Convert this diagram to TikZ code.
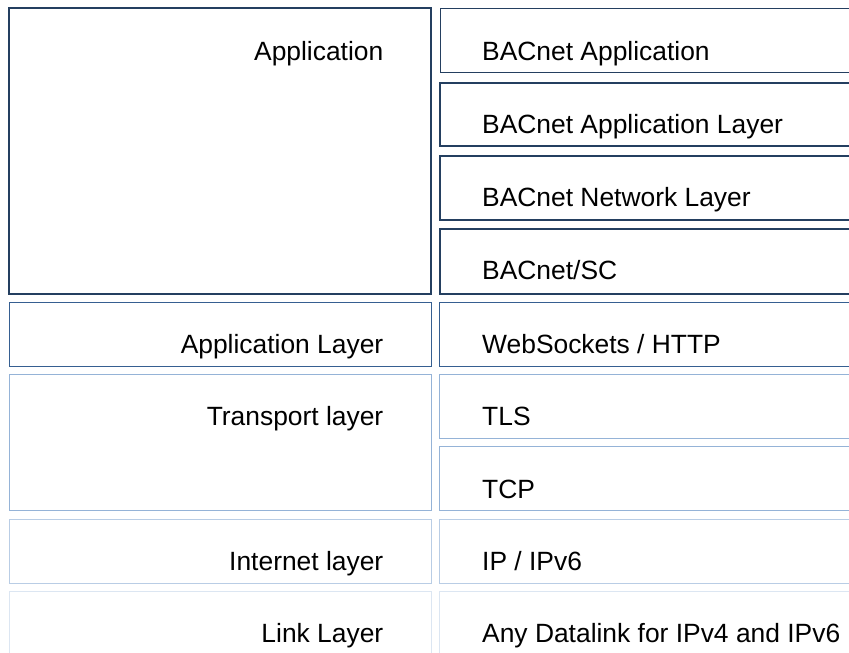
\documentclass[tikz,border=0pt]{standalone}
\usepackage{fontspec}
\setmainfont{Liberation Sans}
\usetikzlibrary{positioning}
\definecolor{navyblue}{RGB}{36,63,96}
\definecolor{midblue}{RGB}{54,95,145}
\definecolor{lightblue}{RGB}{149,179,215}
\definecolor{paleblue}{RGB}{185,205,229}
\definecolor{faintblue}{RGB}{220,230,242}
\tikzset{
  layerbox/.style={line width=1pt},
  bacbox/.style={line width=2pt, draw=navyblue},
  lefttxt/.style={anchor=base east, inner sep=0pt, font=\fontsize{26.4}{30}\selectfont},
  righttxt/.style={anchor=base west, inner sep=0pt, font=\fontsize{26.4}{30}\selectfont}
}

\begin{document}
\begin{tikzpicture}[x=1pt,y=-1pt]
    \clip (0,0) rectangle (849,653);

    % =====================
    % BACnet stack (top)
    % =====================
    \draw[bacbox] (9,8) rectangle (431,294);
    \node[lefttxt] (app) at (383.5,60.5) {Application};

    \draw[layerbox, draw=navyblue] (440,8.5) rectangle (870,72);
    \node[righttxt] (bacapp) at (482,60.5) {BACnet Application};

    \draw[bacbox] (440,82.5) rectangle (870,145.5);
    \node[righttxt] (bacal) at (482,133) {BACnet Application Layer};

    \draw[bacbox] (440,155.5) rectangle (870,219.5);
    \node[righttxt] (bacnl) at (482,206) {BACnet Network Layer};

    \draw[bacbox] (440,229) rectangle (870,294);
    \node[righttxt] (bacsc) at (482,279) {BACnet/SC};

    % =====================
    % Application layer
    % =====================
    \draw[layerbox, draw=midblue] (9.5,302.5) rectangle (431.5,366.5);
    \draw[layerbox, draw=midblue] (439.5,302.5) rectangle (870,366.5);
    \node[lefttxt] (applayer) at (383.5,353) {Application Layer};
    \node[righttxt] (websock) at (482,353) {WebSockets / HTTP};

    % =====================
    % Transport layer
    % =====================
    \draw[layerbox, draw=lightblue] (9.5,374.5) rectangle (431.5,510.5);
    \draw[layerbox, draw=lightblue] (439.5,374.5) rectangle (870,438.5);
    \draw[layerbox, draw=lightblue] (439.5,446.5) rectangle (870,510.5);
    \node[lefttxt] (transport) at (383.5,425.5) {Transport layer};
    \node[righttxt] (tls) at (482,425.5) {TLS};
    \node[righttxt] (tcp) at (482,498) {TCP};

    % =====================
    % Internet layer
    % =====================
    \draw[layerbox, draw=paleblue] (9.5,519.5) rectangle (431.5,583.5);
    \draw[layerbox, draw=paleblue] (439.5,519.5) rectangle (870,583.5);
    \node[lefttxt] (internet) at (383.5,570.5) {Internet layer};
    \node[righttxt] (ip) at (482,570.5) {IP / IPv6};

    % =====================
    % Link layer
    % =====================
    \draw[layerbox, draw=faintblue] (9.5,591.5) rectangle (431.5,670);
    \draw[layerbox, draw=faintblue] (439.5,591.5) rectangle (870,670);
    \node[lefttxt] (link) at (383.5,642.5) {Link Layer};
    \node[righttxt] (datalink) at (482,642.5) {Any Datalink for IPv4 and IPv6};

\end{tikzpicture}
\end{document}
